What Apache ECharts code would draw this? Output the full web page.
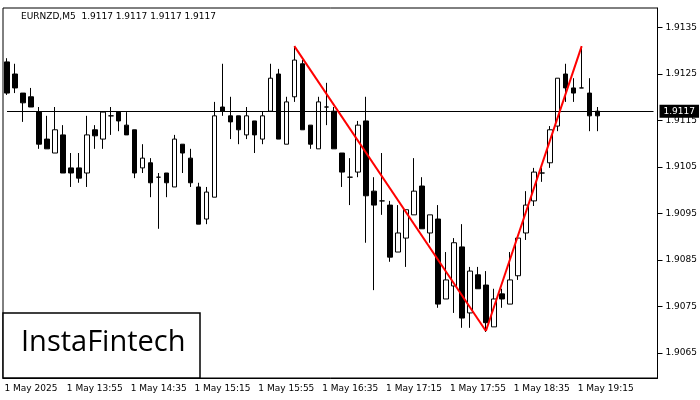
<!DOCTYPE html>
<html><head><meta charset="utf-8">
<script src="https://cdn.jsdelivr.net/npm/echarts@6/dist/echarts.min.js"></script>
<style>html,body{margin:0;padding:0;background:#fff}#c{width:700px;height:400px}</style>
</head><body><div id="c"></div>
<script>
const opens=[1.91276,1.91250,1.91209,1.91201,1.91168,1.91110,1.91080,1.91119,1.91048,1.91048,1.91037,1.91130,1.91110,1.91160,1.91168,1.91140,1.91130,1.91048,1.91059,1.91028,1.91037,1.91007,1.91099,1.91069,1.91007,1.90938,1.90985,1.91179,1.91160,1.91160,1.91119,1.91149,1.91110,1.91170,1.91250,1.91099,1.91201,1.91272,1.91140,1.91089,1.91179,1.91170,1.91080,1.91028,1.91039,1.91149,1.90998,1.90977,1.90968,1.90867,1.90897,1.90947,1.91009,1.90908,1.90938,1.90766,1.90794,1.90878,1.90736,1.90818,1.90796,1.90706,1.90777,1.90755,1.90816,1.90908,1.90977,1.91037,1.91059,1.91138,1.91250,1.91220,1.91220,1.91209,1.91170];
const closes=[1.91209,1.91220,1.91188,1.91179,1.91099,1.91089,1.91130,1.91037,1.91037,1.91026,1.91119,1.91117,1.91168,1.91160,1.91149,1.91119,1.91037,1.91069,1.91016,1.91028,1.91016,1.91110,1.91080,1.91016,1.90927,1.90996,1.91160,1.91170,1.91147,1.91130,1.91160,1.91119,1.91160,1.91241,1.91110,1.91190,1.91280,1.91130,1.91099,1.91190,1.91179,1.91089,1.91039,1.91028,1.91140,1.90988,1.90968,1.90977,1.90856,1.90908,1.90958,1.90998,1.90917,1.90947,1.90755,1.90807,1.90887,1.90725,1.90826,1.90788,1.90715,1.90766,1.90766,1.90807,1.90897,1.90968,1.91039,1.91037,1.91130,1.91241,1.91220,1.91209,1.91220,1.91160,1.91160];
const lows=[1.91205,1.91209,1.91147,1.91179,1.91089,1.91089,1.91080,1.91037,1.91007,1.91016,1.91007,1.91089,1.91089,1.91119,1.91127,1.91119,1.91026,1.91037,1.90985,1.90917,1.90985,1.91007,1.91037,1.91007,1.90927,1.90927,1.90985,1.91160,1.91110,1.91099,1.91110,1.91080,1.91099,1.91170,1.91110,1.91099,1.91190,1.91130,1.91089,1.91089,1.91140,1.91089,1.91007,1.90968,1.91028,1.90887,1.90785,1.90947,1.90846,1.90867,1.90835,1.90947,1.90917,1.90887,1.90747,1.90766,1.90736,1.90704,1.90704,1.90788,1.90695,1.90706,1.90747,1.90755,1.90807,1.90893,1.90966,1.91018,1.91048,1.91127,1.91190,1.91190,1.91220,1.91127,1.91127];
const highs=[1.91284,1.91272,1.91209,1.91220,1.91179,1.91160,1.91179,1.91140,1.91080,1.91080,1.91160,1.91140,1.91168,1.91179,1.91168,1.91168,1.91130,1.91099,1.91069,1.91037,1.91037,1.91119,1.91099,1.91089,1.91016,1.91007,1.91190,1.91272,1.91201,1.91160,1.91179,1.91149,1.91170,1.91272,1.91261,1.91201,1.91310,1.91280,1.91140,1.91201,1.91231,1.91179,1.91080,1.91069,1.91149,1.91201,1.91028,1.91080,1.90977,1.90968,1.90958,1.91069,1.91028,1.90947,1.90968,1.90867,1.90897,1.90927,1.90835,1.90835,1.90826,1.90788,1.90788,1.90867,1.90897,1.90998,1.91048,1.91048,1.91138,1.91241,1.91272,1.91241,1.91310,1.91241,1.91179];
const yTicks=[1.9065,1.9075,1.9085,1.9095,1.9105,1.9115,1.9125,1.9135];
const pattern=[[36,1.91310],[60,1.90697],[72,1.91310]];
const currentPrice=1.9117;
const totalSlots=82;
const cats=[];
for(let i=0;i<totalSlots;i++){const m=13*60+5*i;cats.push(String(Math.floor(m/60)).padStart(2,'0')+':'+String(m%60).padStart(2,'0'));}
const data=opens.map((o,i)=>[o,closes[i],lows[i],highs[i]]);
const chart=echarts.init(document.getElementById('c'));
const F='"DejaVu Sans", sans-serif';
const red={color:'#f00',width:2,type:'solid'};
chart.setOption({
 animation:false,
 grid:{left:3,right:40,top:8,bottom:22,show:true,borderColor:'#000',borderWidth:1},
 title:{text:'EURNZD,M5  1.9117 1.9117 1.9117 1.9117',left:16,top:7,textStyle:{fontSize:9,fontWeight:'normal',color:'#000',fontFamily:F}},
 xAxis:{type:'category',data:cats,boundaryGap:true,
  axisLine:{lineStyle:{color:'#000'}},
  axisTick:{alignWithLabel:true,interval:(i)=>i%8===3,lineStyle:{color:'#000'}},
  axisLabel:{interval:(i)=>i%8===3,color:'#000',fontSize:9,fontFamily:F,margin:6,
   formatter:(v,i)=>i===3?'1 May 2025':'1 May '+v},
  splitLine:{show:false}},
 yAxis:{type:'value',position:'right',min:1.90596,max:1.91392,
  axisLine:{show:true,lineStyle:{color:'#000'}},
  axisTick:{show:true,customValues:yTicks,lineStyle:{color:'#000'}},
  axisLabel:{customValues:yTicks,color:'#000',fontSize:9,fontFamily:F,formatter:v=>v.toFixed(4)},
  splitLine:{show:false}},
 series:[{type:'candlestick',data:data,barWidth:5,
  itemStyle:{color:'#fff',color0:'#000',borderColor:'#000',borderColor0:'#000',borderWidth:1}},
  {type:'line',data:[],markLine:{symbol:'none',silent:true,animation:false,data:[
   [{coord:[cats[0],currentPrice],lineStyle:{color:'#000',width:1,type:'solid'},
     label:{position:'end',formatter:'1.9117',color:'#fff',backgroundColor:'#000',padding:[2,4],fontSize:9,fontFamily:F,distance:6}},
    {coord:[cats[totalSlots-1],currentPrice]}],
   [{coord:[cats[pattern[0][0]],pattern[0][1]],lineStyle:red,label:{show:false}},{coord:[cats[pattern[1][0]],pattern[1][1]]}],
   [{coord:[cats[pattern[1][0]],pattern[1][1]],lineStyle:red,label:{show:false}},{coord:[cats[pattern[2][0]],pattern[2][1]]}]
  ]}}
 ],
 graphic:[{type:'rect',shape:{x:3,y:313,width:197,height:65},style:{fill:'#fff',stroke:'#000',lineWidth:1.5},z:100},
  {type:'text',left:21,top:328,style:{text:'InstaFintech',fontSize:29,fontFamily:'"Open Sans", sans-serif',fill:'#000'},z:101}]
});
</script></body></html>
